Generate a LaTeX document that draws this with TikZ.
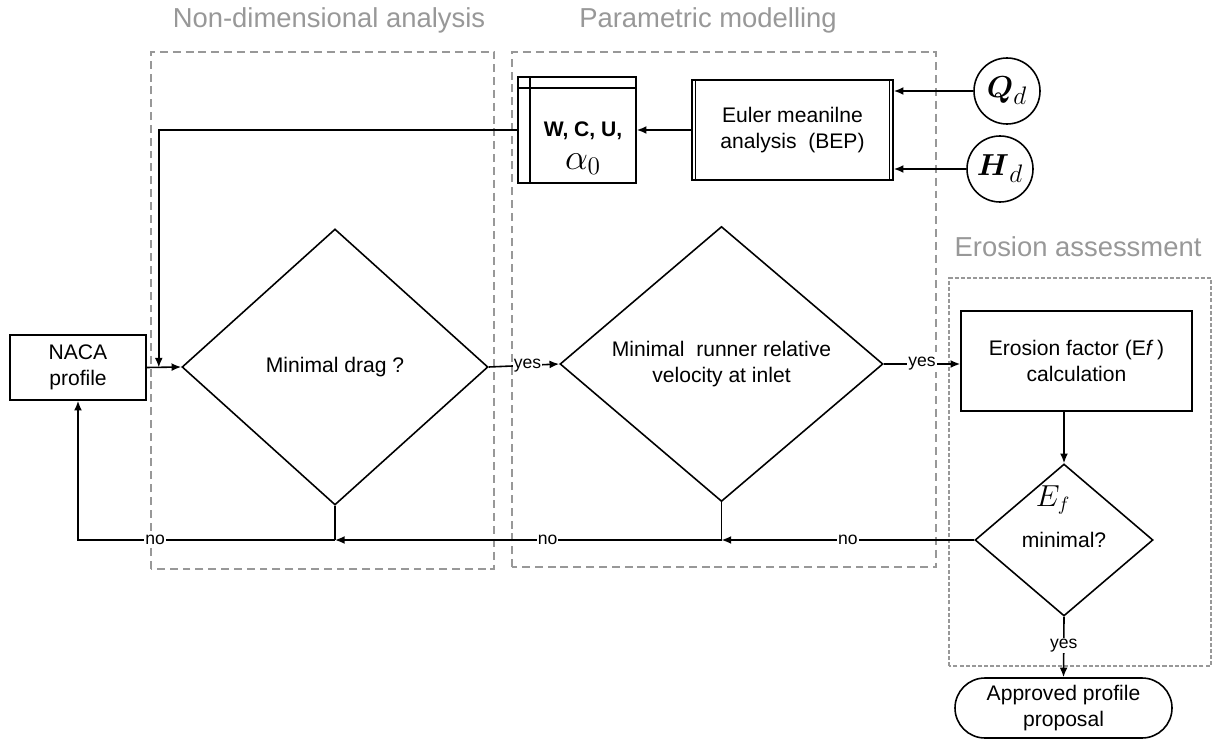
\documentclass[tikz,border=0pt]{standalone}
\usepackage{fontspec}
\usepackage{amsmath}
\usepackage{xcolor}
\setmainfont{Liberation Sans}
\usetikzlibrary{shapes,arrows.meta,positioning,calc}
\definecolor{framegray}{RGB}{152,152,152}

\begin{document}
\begin{tikzpicture}[line width=0.9pt, >={Latex[length=5.5pt,width=4.5pt]}]
  \tikzstyle{block}=[rectangle, draw, fill=white, align=center, font=\fontsize{12}{14.8}\selectfont]
  \tikzstyle{decision}=[diamond, draw, fill=white, inner sep=0pt, align=center, font=\fontsize{12}{14.8}\selectfont]
  \tikzstyle{input}=[circle, draw, minimum size=1.32cm, inner sep=0pt, font=\fontsize{19}{19}\selectfont]
  \tikzstyle{stage}=[draw=framegray, line width=1.1pt, dash pattern=on 4.5pt off 2.8pt]
  \tikzstyle{stagetitle}=[text=framegray, anchor=base, font=\fontsize{15.6}{18}\selectfont]
  \tikzstyle{answer}=[fill=white, inner sep=0.6pt, font=\fontsize{10}{12}\selectfont]

  \useasboundingbox (0,0) rectangle (24.34,14.8);

  % the three stages
  \draw[stage] (3.02,3.42) rectangle (9.88,13.76);
  \draw[stage] (10.24,3.46) rectangle (18.72,13.76);
  \draw[stage, line width=0.6pt, dash pattern=on 2.3pt off 1.2pt] (18.98,1.48) rectangle (24.22,9.24);
  \node[stagetitle] (nondim) at (6.58,14.24) {Non-dimensional analysis};
  \node[stagetitle] (param) at (14.16,14.24) {Parametric modelling};
  \node[stagetitle] (erosion) at (21.56,9.66) {Erosion assessment};

  % blocks
  \node[block, minimum width=2.72cm, minimum height=1.30cm] (naca) at (1.56,7.45) {NACA\\profile};
  \node[decision, minimum width=6.12cm, minimum height=5.52cm] (drag) at (6.70,7.46) {Minimal drag ?};
  \node[decision, minimum width=6.46cm, minimum height=5.50cm] (runner) at (14.43,7.52) {Minimal\ \ runner relative\\velocity at inlet};
  \node[block, minimum width=2.36cm, minimum height=2.12cm] (wcu) at (11.54,12.20) {};
  \node[align=center, inner sep=0pt, font=\fontsize{12}{14.8}\selectfont] (wcutext) at ($(wcu.center)+(0.12,-0.36)$) {\textbf{W, C, U,}\\[4pt]{\fontsize{21}{21}\selectfont$\alpha_0$}};
  \node[block, minimum width=4.02cm, minimum height=2cm] (euler) at (15.85,12.20) {Euler meanilne\\analysis\ \ (BEP)};
  \node[input] (qd) at (20.14,12.98) {$\boldsymbol{Q}_d$};
  \node[input] (hd) at (20.00,11.42) {$\boldsymbol{H}_d$};
  \node[block, minimum width=4.62cm, minimum height=2cm] (ero) at (21.53,7.58) {Erosion factor (E\textit{f}\,)\\calculation};
  \node[decision, minimum width=3.56cm, minimum height=3.04cm] (efmin) at (21.28,4.00) {minimal?};
  \node[font=\fontsize{16}{16}\selectfont] (ef) at (21.06,4.80) {$E_f$};
  \node[block, rounded corners=0.6cm, minimum width=4.34cm, minimum height=1.2cm] (appr) at (21.27,0.64) {Approved profile\\proposal};

  % stored data and process borders
  \draw ($(wcu.north west)+(0.26,0)$) -- ($(wcu.south west)+(0.26,0)$);
  \draw ($(wcu.north west)+(0,-0.24)$) -- ($(wcu.north east)+(0,-0.24)$);
  \draw[line width=0.7pt] ($(euler.north west)+(0.08,0)$) -- ($(euler.south west)+(0.08,0)$);
  \draw[line width=0.7pt] ($(euler.north east)+(-0.08,0)$) -- ($(euler.south east)+(-0.08,0)$);

  \coordinate (j1) at (drag.south |- efmin.west);
  \coordinate (j2) at (runner.south |- efmin.west);
  \coordinate (fb) at ($(naca.east)+(0.24,0)$);

  % forward flow
  \draw[->] (naca.east) -- (drag.west);
  \draw[->] (drag.east) -- node[answer, pos=0.55] {yes} (runner.west);
  \draw[->] (runner.east) -- node[answer] {yes} (runner.east -| ero.west);
  \draw[->] (ero.south -| efmin.north) -- (efmin.north);
  \draw[->] (efmin.south) -- node[answer, pos=0.47] {yes} (appr.north);
  % inputs
  \draw[->] (qd.west) -- (qd.west -| euler.east);
  \draw[->] (hd.west) -- (hd.west -| euler.east);
  \draw[->] (euler.west) -- (wcu.east);
  \draw[->] (wcu.west) -| (fb);
  % loops back
  \draw (drag.south) -- (j1);
  \draw (runner.south) -- (j2);
  \draw[->] (efmin.west) -- node[answer] {no} (j2);
  \draw[->] (j2) -- node[answer, pos=0.45] {no} (j1);
  \draw[->] (j1) -| node[answer, pos=0.35] {no} (naca.south);
\end{tikzpicture}
\end{document}
